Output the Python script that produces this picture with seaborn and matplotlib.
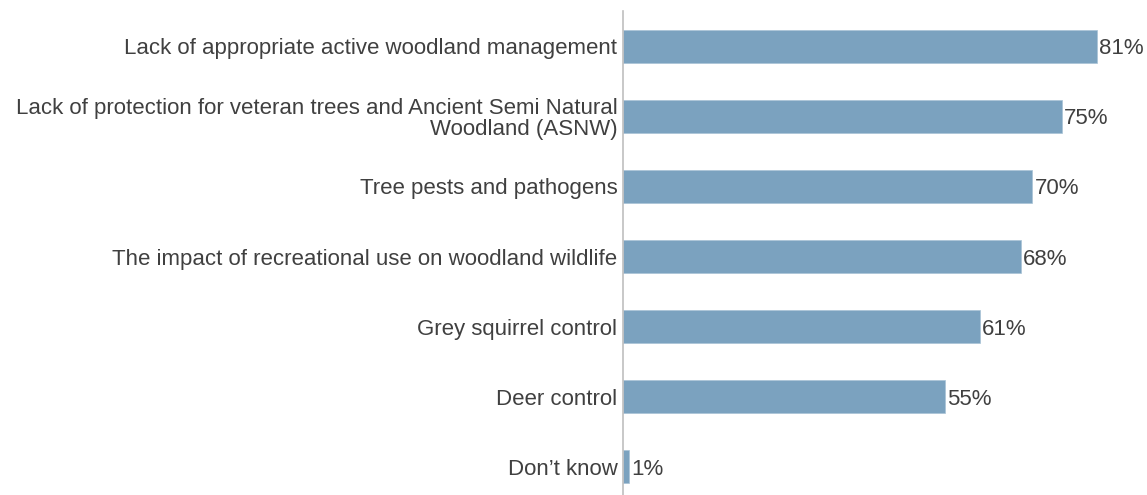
import matplotlib
matplotlib.use("Agg")
import matplotlib.pyplot as plt
import pandas as pd
import seaborn as sns

categories = [
    "Lack of appropriate active woodland management",
    "Lack of protection for veteran trees and Ancient Semi Natural\nWoodland (ASNW)",
    "Tree pests and pathogens",
    "The impact of recreational use on woodland wildlife",
    "Grey squirrel control",
    "Deer control",
    "Don\u2019t know",
]
values = [81, 75, 70, 68, 61, 55, 1]

sns.set_theme(style="white")
plt.rcParams["font.family"] = ["Liberation Sans", "DejaVu Sans"]

TEXT = "#404040"
BAR = "#7ba2bf"

df = pd.DataFrame({"category": categories, "pct": values})

fig = plt.figure(figsize=(11.47, 4.95), dpi=100)
ax = fig.add_axes([623 / 1147, 1 - 502 / 495, (1147 - 623) / 1147, 491 / 495])
sns.barplot(data=df, x="pct", y="category", orient="h", color=BAR,
            width=0.47, saturation=1, edgecolor="#a9c3d6", linewidth=0.5, ax=ax)

ax.set_xlim(0, 89.6)
ax.set_ylim(6.5, -0.5)
ax.set_xlabel("")
ax.set_ylabel("")
ax.set_xticks([])
for side in ["top", "right", "bottom"]:
    ax.spines[side].set_visible(False)
ax.spines["left"].set_color("#bfbfbf")
ax.spines["left"].set_linewidth(1.2)
ax.tick_params(axis="y", length=0, pad=4, labelsize=16, labelcolor=TEXT)
for lbl in ax.get_yticklabels():
    lbl.set_linespacing(1.0)

for i, v in enumerate(values):
    ax.text(v + 0.35, i, f"{v}%", va="center_baseline", ha="left", fontsize=16, color=TEXT)

fig.savefig("out.png", dpi=100)
